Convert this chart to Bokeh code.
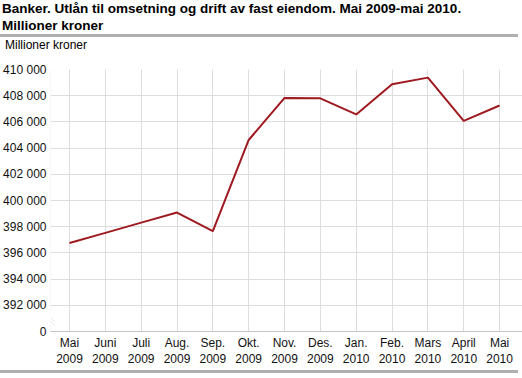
from bokeh.plotting import figure
from bokeh.models import Range1d, FixedTicker, Div, PolyAnnotation
from bokeh.layouts import column
from bokeh.embed import file_html
from bokeh.resources import INLINE

# ---- data ----
months = ["Mai", "Juni", "Juli", "Aug.", "Sep.", "Okt.", "Nov.", "Des.",
          "Jan.", "Feb.", "Mars", "April", "Mai"]
years = ["2009", "2009", "2009", "2009", "2009", "2009", "2009", "2009",
         "2010", "2010", "2010", "2010", "2010"]
values = [396750, 397530, 398310, 399080, 397670, 404620, 407830, 407800,
          406570, 408880, 409380, 406080, 407250]
y_tick_values = [390000, 392000, 394000, 396000, 398000, 400000,
                 402000, 404000, 406000, 408000, 410000]
y_tick_labels = ["0", "392 000", "394 000", "396 000", "398 000", "400 000",
                 "402 000", "404 000", "406 000", "408 000", "410 000"]
title_text = "Banker. Utlån til omsetning og drift av fast eiendom. Mai 2009-mai 2010."
title_text2 = "Millioner kroner"
unit_text = "Millioner kroner"

FONT = "Liberation Sans"
W, H = 522, 318
BL, BR, BT, BB = 48, 0, 18, 38
x_start, x_end = -0.53, 12.64
SEP = "#b0b0b0"

xs = list(range(len(months)))
x_labels = {i: f"{m}\n{y}" for i, (m, y) in enumerate(zip(months, years))}

p = figure(width=W, height=H, output_backend="svg", toolbar_location=None,
           x_range=Range1d(x_start, x_end),
           y_range=Range1d(y_tick_values[0], y_tick_values[-1]),
           min_border_left=BL, min_border_right=BR, min_border_top=BT,
           min_border_bottom=BB, margin=(0, 0, 0, 0))
p.outline_line_color = None
p.background_fill_color = "white"
p.border_fill_color = "white"

p.line(xs, values, line_color="#9e1a20", line_width=2)

p.xaxis.ticker = FixedTicker(ticks=xs)
p.xaxis.major_label_overrides = x_labels
p.yaxis.ticker = FixedTicker(ticks=y_tick_values)
p.yaxis.major_label_overrides = dict(zip(y_tick_values, y_tick_labels))
for ax in (p.xaxis[0], p.yaxis[0]):
    ax.major_tick_in = 0
    ax.major_tick_out = 0
    ax.minor_tick_in = 0
    ax.minor_tick_out = 0
    ax.major_label_text_font = FONT
    ax.major_label_text_font_size = "12px"
    ax.major_label_text_color = "#111111"
    ax.major_label_standoff = 4
p.xaxis.axis_line_color = "#c4c4c4"
p.yaxis.axis_line_color = None
p.grid.grid_line_color = "#dddddd"

# y-axis line with a break between 0 and the first real tick
frame_w = W - BL - BR
frame_h = H - BT - BB
ux = (x_end - x_start) / frame_w
uy = (y_tick_values[-1] - y_tick_values[0]) / frame_h
yb = (y_tick_values[0] + y_tick_values[1]) / 2
axc = "#c4c4c4"
p.add_layout(PolyAnnotation(xs=[x_start, x_start], ys=[y_tick_values[-1], yb + 8 * uy],
                            fill_alpha=0, line_color=axc, line_width=1))
p.add_layout(PolyAnnotation(xs=[x_start, x_start], ys=[yb - 7 * uy, y_tick_values[0]],
                            fill_alpha=0, line_color=axc, line_width=1))
for d in (-2, 2):
    p.add_layout(PolyAnnotation(xs=[x_start - 5 * ux, x_start + 4 * ux],
                                ys=[yb + (4 + d) * uy, yb + (-5 + d) * uy],
                                fill_alpha=0, line_color="#b0b0b0", line_width=1))


def separator(h, top=0):
    return Div(text="&nbsp;", width=W - 4, height=h, margin=(top, 0, 0, 0),
               styles={"background-color": SEP})


title_div = Div(
    text=(f'<div style="font-family:\'{FONT}\',Arial,sans-serif;font-weight:bold;font-size:13.5px;'
          f'line-height:17px;color:#000;padding-left:2px;white-space:nowrap;">'
          f'{title_text}<br>{title_text2}</div>'),
    width=W, height=34, margin=(0, 0, 0, 0))
unit_div = Div(
    text=(f'<div style="font-family:\'{FONT}\',Arial,sans-serif;font-size:12px;line-height:14px;'
          f'padding-left:5px;color:#000;white-space:nowrap;">{unit_text}</div>'),
    width=W, height=14, margin=(0, 0, 0, 0))

layout = column(title_div, separator(3), unit_div, p, separator(3, 1), spacing=0)

with open("out.html", "w", encoding="utf-8") as f:
    f.write(file_html(layout, INLINE))
